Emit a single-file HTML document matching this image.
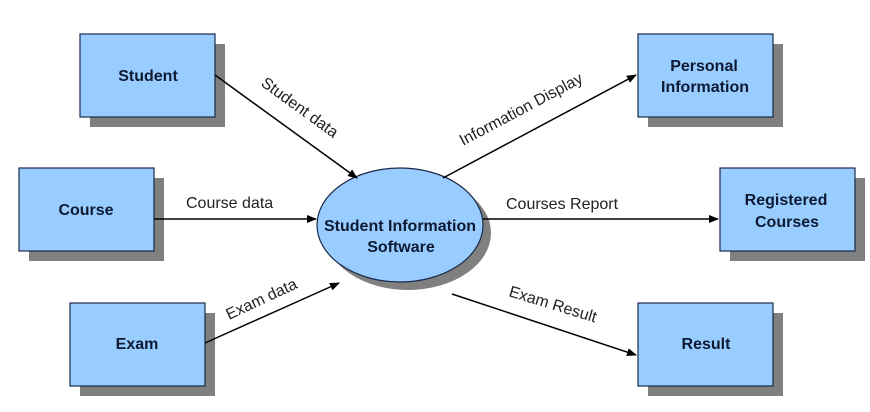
<!DOCTYPE html>
<html><head><meta charset="utf-8"><style>
html,body{margin:0;padding:0;background:#fff;}
svg{display:block;}
.b{font-family:"Liberation Sans",Arial,sans-serif;font-weight:bold;font-size:16px;fill:#0d1a33;}
.l{font-family:"Liberation Sans",Arial,sans-serif;font-size:16px;fill:#222;}
</style></head><body>
<svg width="870" height="412" viewBox="0 0 870 412" xmlns="http://www.w3.org/2000/svg">
<defs><marker id="a" markerWidth="10" markerHeight="8" refX="9" refY="4" orient="auto" markerUnits="userSpaceOnUse"><path d="M0,0 L10,4 L0,8 z" fill="#000"/></marker></defs>
<g fill="#808080">
<rect x="90" y="44" width="135" height="83"/>
<rect x="29" y="178" width="135" height="83"/>
<rect x="80" y="313" width="135" height="83"/>
<rect x="648" y="44" width="135" height="83"/>
<rect x="730" y="178" width="135" height="83"/>
<rect x="648" y="313" width="135" height="83"/>
<ellipse cx="408" cy="233" rx="83" ry="57"/>
</g>
<g fill="#99ccff" stroke="#1a2a4a" stroke-width="1.2">
<rect x="80" y="34" width="135" height="83"/>
<rect x="19" y="168" width="135" height="83"/>
<rect x="70" y="303" width="135" height="83"/>
<rect x="638" y="34" width="135" height="83"/>
<rect x="720" y="168" width="135" height="83"/>
<rect x="638" y="303" width="135" height="83"/>
<ellipse cx="400" cy="225" rx="83" ry="57"/>
</g>
<g text-anchor="middle" class="b">
<text x="148" y="81">Student</text>
<text x="86" y="215">Course</text>
<text x="137" y="349">Exam</text>
<text x="704" y="71">Personal</text>
<text x="705" y="92">Information</text>
<text x="786" y="205">Registered</text>
<text x="787" y="227">Courses</text>
<text x="706" y="349">Result</text>
<text x="400" y="231">Student Information</text>
<text x="401" y="252">Software</text>
</g>
<g stroke="#000" stroke-width="1.5" fill="none" marker-end="url(#a)">
<line x1="215" y1="75" x2="357" y2="178"/>
<line x1="154" y1="219" x2="316" y2="219"/>
<line x1="205" y1="343" x2="339" y2="283"/>
<line x1="443" y1="178" x2="636" y2="75"/>
<line x1="483" y1="219" x2="718" y2="219"/>
<line x1="452" y1="294" x2="636" y2="355"/>
</g>
<g class="l">
<text transform="translate(260,85) rotate(36)">Student data</text>
<text x="186" y="208">Course data</text>
<text transform="translate(229,320) rotate(-25)">Exam data</text>
<text transform="translate(463,146) rotate(-28)">Information Display</text>
<text x="506" y="209">Courses Report</text>
<text transform="translate(508,296) rotate(17)">Exam Result</text>
</g>
</svg>
</body></html>
